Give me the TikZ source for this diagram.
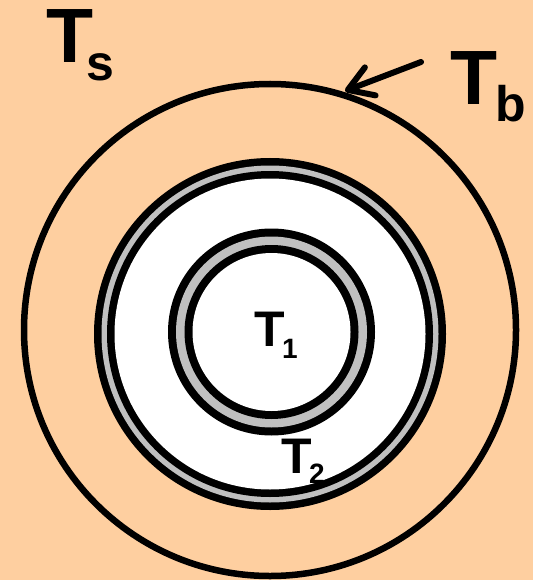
\documentclass[tikz,border=0pt]{standalone}
\usepackage{fontspec}
\setmainfont{Liberation Sans}
\usetikzlibrary{arrows.meta}
\definecolor{peach}{RGB}{254,207,160}
\definecolor{ringgray}{RGB}{192,192,192}
\newcommand{\tsub}[4]{{\fontsize{#1}{#1}\selectfont T}\kern#3\raisebox{#4}{\fontsize{#2}{#2}\selectfont}}
\tikzset{
  lbl/.style={inner sep=0pt, outer sep=0pt, anchor=base west, font=\bfseries},
  pointer/.style={line width=6pt, line cap=round,
    -{Straight Barb[length=24pt, width=30pt, line width=6pt, round]}},
}
\begin{document}
\begin{tikzpicture}[x=1pt, y=-1pt]
  \fill[peach] (0,0) rectangle (533,580);
  \useasboundingbox (0,0) rectangle (533,580);
  % outer boundary circle
  \draw[line width=6.5pt] (270,330) circle[radius=246];
  % middle ring
  \fill[black] (270,334) circle[radius=176];
  \fill[ringgray] (270,334) circle[radius=168.5];
  \fill[black] (270,334) circle[radius=163];
  \fill[white] (270,334) circle[radius=155.5];
  % inner ring
  \fill[black] (271.5,332) circle[radius=103.5];
  \fill[ringgray] (271.5,332) circle[radius=95.5];
  \fill[black] (271.5,332) circle[radius=87];
  \fill[white] (271.5,332) circle[radius=79];
  % labels
  \node[lbl] (ts) at (46,63) {{\fontsize{77}{77}\selectfont T}\kern-6.5pt\raisebox{-18pt}{\fontsize{50}{50}\selectfont s}};
  \node[lbl] (tb) at (450.5,105) {{\fontsize{77}{77}\selectfont T}\kern-2pt\raisebox{-17pt}{\fontsize{50}{50}\selectfont b}};
  \node[lbl] (t1) at (254,346) {{\fontsize{50}{50}\selectfont T}\kern-2.5pt\raisebox{-12pt}{\fontsize{28}{28}\selectfont 1}};
  \node[lbl] (t2) at (281,473) {{\fontsize{50}{50}\selectfont T}\kern-2.5pt\raisebox{-10pt}{\fontsize{28}{28}\selectfont 2}};
  % arrow to boundary
  \coordinate (tail) at (421,62);
  \coordinate (tip) at (345,91);
  \draw[pointer] (tail) -- (tip);
\end{tikzpicture}
\end{document}
